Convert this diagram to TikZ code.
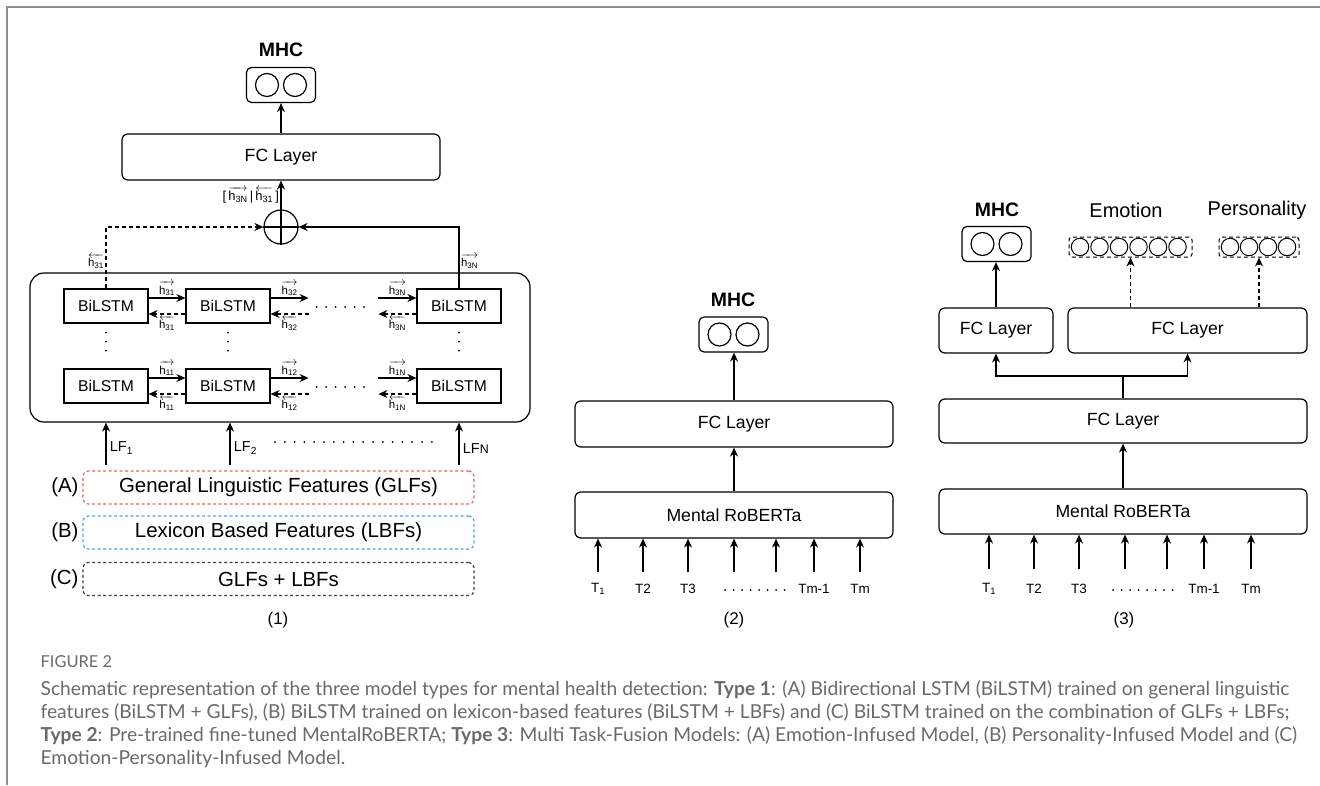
\documentclass[tikz,border=0pt]{standalone}
\usepackage{amsmath}
\usepackage{fontspec}
\setmainfont{Liberation Sans}
\newfontfamily\capfont{Lato}
\usetikzlibrary{arrows.meta,calc}

\definecolor{glfred}{HTML}{E06666}
\definecolor{lbfblue}{HTML}{4DA3F5}
\definecolor{capgray}{HTML}{6A6A6A}
\definecolor{framegray}{HTML}{8F8F8F}

\newcommand\fsz[1]{\fontsize{#1}{#1}\selectfont}
\newcommand\hfw[1]{$\overrightarrow{\text{h}_{\text{#1}}}$}
\newcommand\hbw[1]{$\overleftarrow{\text{h}_{\text{#1}}}$}

\tikzset{
  arr/.style={-{Stealth[length=9bp,width=8bp,inset=3bp]}},
  dsh/.style={dash pattern=on 4bp off 3bp},
  fcbox/.style={draw, rounded corners=6bp, minimum height=46bp, font=\fsz{17.7}},
  lstm/.style={draw, minimum width=84bp, minimum height=34bp, font=\fsz{15.7}},
  outbox/.style={draw, rounded corners=5bp, minimum width=69bp, minimum height=35bp},
  neuron/.style={draw, circle, minimum size=23bp, inner sep=0pt},
  sneuron/.style={draw, circle, minimum size=17.5bp, inner sep=0pt, line width=1bp},
  featbox/.style={draw, dash pattern=on 3bp off 2.5bp, rounded corners=5bp,
    minimum width=391bp, minimum height=33bp, font=\fsz{20.5}},
  hlab/.style={font=\fsz{11.5}, inner sep=1.5bp},
  toklab/.style={font=\fsz{13.5}},
  lflab/.style={font=\fsz{14.5}},
  headlab/.style={font=\fsz{20}},
  mhclab/.style={font=\bfseries\fsz{19.5}},
  capline/.style={font=\capfont\fsz{19.3}, text=capgray, inner sep=0pt},
  dotrow/.style={line width=2bp, line cap=round, dash pattern=on 0bp off #1},
  dotrow/.default=9bp,
}

\begin{document}
\begin{tikzpicture}[x=1bp, y=-1bp, line width=1.2bp]

\newcommand\Ytop{306}
\newcommand\Ybot{386}

\useasboundingbox (0,0) rectangle (1320,785);
\draw[framegray, line width=2bp] (7,785) -- (7,7) -- (1320,7); %% frame

%% ---------- (1) BiLSTM model ----------
\node[mhclab] (mhc1t) at (281,50) {MHC};
\node[outbox] (mhc1) at (281,85) {};
\foreach \i in {-1,1}
  \node[neuron] (mhc1n\i) at ($(mhc1)+(14*\i,0)$) {};
\node[fcbox, minimum width=318bp] (fc1) at (281,157) {FC Layer};
\node[circle, draw, minimum size=34bp, inner sep=0pt] (sum) at (281,227) {};
\draw (sum.north) -- (sum.south) (sum.west) -- (sum.east);
\draw[arr] (sum.north) -- (fc1.south)
  node[midway, left, hlab, font=\fsz{13}] {[\,\hfw{3N}\,|\,\hbw{31}\,]};
\draw[arr] (fc1.north) -- (mhc1.south);

\node[draw, rounded corners=14bp, minimum width=500bp, minimum height=149bp] (stack) at (280,347.5) {};

\node[lstm] (c31) at (106,\Ytop) {BiLSTM};
\node[lstm] (c32) at (228,\Ytop) {BiLSTM};
\node[lstm] (c3n) at (459,\Ytop) {BiLSTM};
\node[lstm] (c11) at (106,\Ybot) {BiLSTM};
\node[lstm] (c12) at (228,\Ybot) {BiLSTM};
\node[lstm] (c1n) at (459,\Ybot) {BiLSTM};

% top layer
\draw[arr] ([yshift=8bp]c31.east) -- ([yshift=8bp]c32.west) node[midway, above, hlab] {\hfw{31}};
\draw[arr, dsh] ([yshift=-8bp]c32.west) -- ([yshift=-8bp]c31.east) node[midway, below, hlab] {\hbw{31}};
\draw[arr] ([yshift=8bp]c32.east) -- +(38bp,0) node[midway, above, hlab] {\hfw{32}};
\draw[arr, dsh] ([xshift=38bp,yshift=-8bp]c32.east) -- ([yshift=-8bp]c32.east) node[midway, below, hlab] {\hbw{32}};
\draw[arr] ([xshift=-38bp,yshift=8bp]c3n.west) -- ([yshift=8bp]c3n.west) node[midway, above, hlab] {\hfw{3N}};
\draw[arr, dsh] ([yshift=-8bp]c3n.west) -- +(-38bp,0) node[midway, below, hlab] {\hbw{3N}};
\draw[dotrow=9.5bp] ([xshift=46bp,yshift=-1bp]c32.east) -- ([xshift=-46bp,yshift=-1bp]c3n.west);

% bottom layer
\draw[arr] ([yshift=8bp]c11.east) -- ([yshift=8bp]c12.west) node[midway, above, hlab] {\hfw{11}};
\draw[arr, dsh] ([yshift=-8bp]c12.west) -- ([yshift=-8bp]c11.east) node[midway, below, hlab] {\hbw{11}};
\draw[arr] ([yshift=8bp]c12.east) -- +(38bp,0) node[midway, above, hlab] {\hfw{12}};
\draw[arr, dsh] ([xshift=38bp,yshift=-8bp]c12.east) -- ([yshift=-8bp]c12.east) node[midway, below, hlab] {\hbw{12}};
\draw[arr] ([xshift=-38bp,yshift=8bp]c1n.west) -- ([yshift=8bp]c1n.west) node[midway, above, hlab] {\hfw{1N}};
\draw[arr, dsh] ([yshift=-8bp]c1n.west) -- +(-38bp,0) node[midway, below, hlab] {\hbw{1N}};
\draw[dotrow=9.5bp] ([xshift=46bp,yshift=-1bp]c12.east) -- ([xshift=-46bp,yshift=-1bp]c1n.west);

% layers in between
\draw[dotrow] ([yshift=-9bp]c31.south) -- ([yshift=9bp]c11.north);
\draw[dotrow] ([yshift=-9bp]c32.south) -- ([yshift=9bp]c12.north);
\draw[dotrow] ([yshift=-9bp]c3n.south) -- ([yshift=9bp]c1n.north);

% last hidden states
\draw[arr, dsh] (c31.north) |- (sum.west) node[pos=0.22, left, hlab] {\hbw{31}};
\draw[arr] (c3n.north) |- (sum.east) node[pos=0.22, right, hlab] {\hfw{3N}};

% inputs
\coordinate (lf1) at (106,465);
\coordinate (lf2) at (230,465);
\coordinate (lfn) at (459,465);
\draw[arr] (lf1) -- (lf1 |- stack.south) node[pos=0.4, right, lflab] {LF\textsubscript{1}};
\draw[arr] (lf2) -- (lf2 |- stack.south) node[pos=0.4, right, lflab] {LF\textsubscript{2}};
\draw[arr] (lfn) -- (lfn |- stack.south) node[pos=0.4, right, lflab] {LF{\fsz{12.5}N}};
\draw[dotrow=9.8bp] (275,442) -- (432,442);

\node[featbox, draw=glfred] (glf) at (278.5,487.5) {General Linguistic Features (GLFs)};
\node[featbox, draw=lbfblue] (lbf) at (278.5,532.5) {Lexicon Based Features (LBFs)};
\node[featbox, draw=black!75] (both) at (278.5,579) {GLFs + LBFs};
\node[left, font=\fsz{20.5}] (ta) at (glf.west) {(A)};
\node[left, font=\fsz{20.5}] (tb) at (lbf.west) {(B)};
\node[left, font=\fsz{20.5}] (tc) at (both.west) {(C)};
\node[font=\fsz{17}] (p1) at (278,620) {(1)};

%% ---------- (2) Mental RoBERTa ----------
\node[mhclab] (mhc2t) at (733,300) {MHC};
\node[outbox] (mhc2) at (733.5,334.5) {};
\foreach \i in {-1,1}
  \node[neuron] (mhc2n\i) at ($(mhc2)+(14*\i,0)$) {};
\node[fcbox, minimum width=318bp] (fc2) at (734,424) {FC Layer};
\node[fcbox, minimum width=318bp] (rob2) at (734,515) {Mental RoBERTa};
\draw[arr] (fc2.north) -- (fc2.north |- mhc2.south);
\draw[arr] (rob2.north) -- (fc2.south);
\foreach \x/\t in {598/T\textsubscript{1}, 643/T2, 688/T3, 734/, 776/, 814/Tm-1, 860/Tm} {
  \coordinate (tk2-\x) at (\x,572);
  \draw[arr] (tk2-\x) -- (tk2-\x |- rob2.south);
  \node[toklab] (tl2-\x) at (\x,589) {\t};
}
\draw[dotrow=8.5bp] (725,590) -- (785,590);
\node[font=\fsz{17}] (p2) at (734,620) {(2)};

%% ---------- (3) multi task fusion ----------
\node[mhclab] (mhc3t) at (997,210) {MHC};
\node[headlab] (emot) at (1126,210) {Emotion};
\node[headlab] (pert) at (1257,210) {Personality};
\node[outbox] (mhc3) at (996.5,244) {};
\foreach \i in {-1,1}
  \node[neuron] (mhc3n\i) at ($(mhc3)+(14*\i,0)$) {};
\node[draw, dsh, line width=1bp, rounded corners=3bp, minimum width=123bp, minimum height=20bp] (emo) at (1130.5,247) {};
\foreach \i in {0,...,5}
  \node[sneuron] (emon\i) at ($(emo.west)+(11.5+19.5*\i,0)$) {};
\node[draw, dsh, line width=1bp, rounded corners=3bp, minimum width=80bp, minimum height=20bp] (per) at (1259,247) {};
\foreach \i in {0,...,3}
  \node[sneuron] (pern\i) at ($(per.west)+(11.5+19*\i,0)$) {};

\node[fcbox, minimum width=114bp, minimum height=45bp] (fca) at (996,330.5) {FC Layer};
\node[fcbox, minimum width=239bp, minimum height=45bp] (fcb) at (1187.5,330.5) {FC Layer};
\node[fcbox, minimum width=368bp, minimum height=44bp] (fc3) at (1123,421) {FC Layer};
\node[fcbox, minimum width=368bp, minimum height=45bp] (rob3) at (1123,511.5) {Mental RoBERTa};

\draw[arr] (fca.north) -- (fca.north |- mhc3.south);
\draw[arr, dsh] (emo.south |- fcb.north) -- (emo.south);
\draw[arr, dsh] (per.south |- fcb.north) -- (per.south);
\coordinate (split) at (1123,376);
\draw (fc3.north) -- (split);
\draw[arr] (split) -| (fca.south);
\draw[arr] (split) -| (fcb.south);
\draw[arr] (rob3.north) -- (fc3.south);
\foreach \x/\t in {989/T\textsubscript{1}, 1034/T2, 1079/T3, 1125/, 1167/, 1204/Tm-1, 1251/Tm} {
  \coordinate (tk3-\x) at (\x,569);
  \draw[arr] (tk3-\x) -- (tk3-\x |- rob3.south);
  \node[toklab] (tl3-\x) at (\x,589) {\t};
}
\draw[dotrow=8.5bp] (1113,590) -- (1173,590);
\node[font=\fsz{17}] (p3) at (1124,620) {(3)};

%% ---------- caption ----------
\node[anchor=base west, font=\capfont\fsz{16.5}, text=capgray, inner sep=0pt] (fig) at (40,667) {FIGURE 2};
\node[anchor=base west, capline] (cap1) at (40,695) {Schematic representation of the three model types for mental health detection: \textbf{Type 1}: (A) Bidirectional LSTM (BiLSTM) trained on general linguistic};
\node[anchor=base west, capline] (cap2) at (40,718) {features (BiLSTM + GLFs), (B) BiLSTM trained on lexicon-based features (BiLSTM + LBFs) and (C) BiLSTM trained on the combination of GLFs + LBFs;};
\node[anchor=base west, capline] (cap3) at (40,741) {\textbf{Type 2}: Pre-trained fine-tuned MentalRoBERTA; \textbf{Type 3}: Multi Task-Fusion Models: (A) Emotion-Infused Model, (B) Personality-Infused Model and (C)};
\node[anchor=base west, capline] (cap4) at (40,764) {Emotion-Personality-Infused Model.};

\end{tikzpicture}
\end{document}
